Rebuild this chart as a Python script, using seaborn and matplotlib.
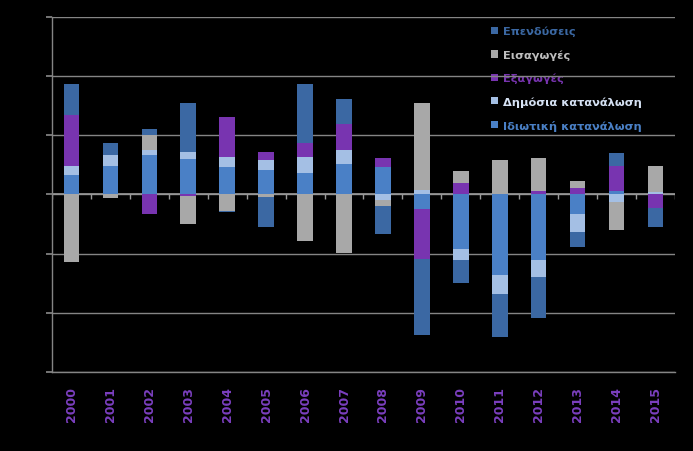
import numpy as np
import matplotlib
matplotlib.use("Agg")
import matplotlib.pyplot as plt
import seaborn as sns
from matplotlib.patches import Patch

# contributions to GDP growth (percentage points)
years = [str(y) for y in range(2000, 2016)]
private_cons = [1.65, 2.39, 3.35, 3.01, 2.36, 2.10, 1.82, 2.61, 2.33, -1.23, -4.60, -6.80, -5.53, -1.64, 0.31, 0.00]
public_cons = [0.79, 0.96, 0.45, 0.62, 0.82, 0.82, 1.38, 1.14, -0.50, 0.38, -0.93, -1.58, -1.41, -1.50, -0.60, 0.20]
exports = [4.24, 0.00, -1.63, -0.10, 3.36, 0.65, 1.14, 2.20, 0.76, -4.24, 0.97, 0.00, 0.29, 0.59, 2.06, -1.17]
imports = [-5.75, -0.32, 1.19, -2.36, -1.40, -0.25, -3.97, -4.98, -0.45, 7.37, 1.02, 2.92, 2.80, 0.54, -2.37, 2.20]
investment = [2.66, 1.02, 0.51, 4.13, -0.11, -2.54, 5.00, 2.12, -2.40, -6.41, -1.92, -3.70, -3.47, -1.27, 1.16, -1.61]

series_names = ["Ιδιωτική κατανάλωση", "Δημόσια κατανάλωση", "Εξαγωγές", "Εισαγωγές", "Επενδύσεις"]
series = [private_cons, public_cons, exports, imports, investment]
bar_colors = ["#4A80C6", "#A4BFE4", "#7834B0", "#A8A8A8", "#3B68A3"]
text_colors = ["#4A80C6", "#D6E2F4", "#7834B0", "#BFBFBF", "#3B68A3"]

sns.set_theme(style="dark", rc={
    "figure.facecolor": "black",
    "axes.facecolor": "black",
    "axes.edgecolor": "#858585",
    "grid.color": "#858585",
})
plt.rcParams["font.family"] = ["DejaVu Sans"]

fig, ax = plt.subplots(figsize=(6.93, 4.52), dpi=100)
fig.subplots_adjust(left=0.075, right=0.974, top=0.96, bottom=0.175)

vals = np.array(series)
pos_cum = np.cumsum(np.clip(vals, 0, None), axis=0)
neg_cum = np.cumsum(np.clip(vals, None, 0), axis=0)

# stacked bars: draw cumulative totals from the outermost layer inwards
for cum in (pos_cum, neg_cum):
    for k in range(len(series) - 1, -1, -1):
        sns.barplot(x=years, y=cum[k], color=bar_colors[k], width=0.4,
                    saturation=1, errorbar=None, ax=ax, zorder=3,
                    linewidth=0, edgecolor="none")

ax.set_ylim(-15, 15)
ax.set_xlim(-0.5, len(years) - 0.5)
ax.set_yticks(np.arange(-15, 16, 5))
ax.yaxis.grid(True, linewidth=1.0)
ax.xaxis.grid(False)
ax.set_axisbelow(True)

# zero line with category tick marks
ax.axhline(0, color="#9A9A9A", linewidth=1.2, zorder=2)
ax.vlines(np.arange(-0.5, len(years), 1.0), -0.4, 0, color="#9A9A9A", linewidth=1, zorder=2)

for side in ["top", "right"]:
    ax.spines[side].set_visible(False)
for side in ["left", "bottom"]:
    ax.spines[side].set_color("#858585")
    ax.spines[side].set_linewidth(1.0)

ax.tick_params(axis="y", left=True, length=4, color="#858585", labelleft=False)
ax.tick_params(axis="x", bottom=False, length=0, pad=10)
ax.set_xlabel("")
ax.set_ylabel("")
for lbl in ax.get_xticklabels():
    lbl.set_rotation(90)
    lbl.set_color("#7B3FBF")
    lbl.set_fontsize(9)
    lbl.set_fontweight("bold")

handles = [Patch(facecolor=bar_colors[k], edgecolor="none") for k in range(len(series))][::-1]
labels = series_names[::-1]
leg = ax.legend(handles, labels, loc="upper left", bbox_to_anchor=(0.700, 0.953),
                bbox_transform=fig.transFigure,
                frameon=False, handlelength=0.6, handleheight=0.6,
                handletextpad=0.45, labelspacing=1.14, borderpad=0,
                prop={"weight": "bold", "size": 8.2})
leg.set_zorder(0.1)
for txt, col in zip(leg.get_texts(), text_colors[::-1]):
    txt.set_color(col)

fig.savefig("out.png", dpi=100, facecolor="black")
